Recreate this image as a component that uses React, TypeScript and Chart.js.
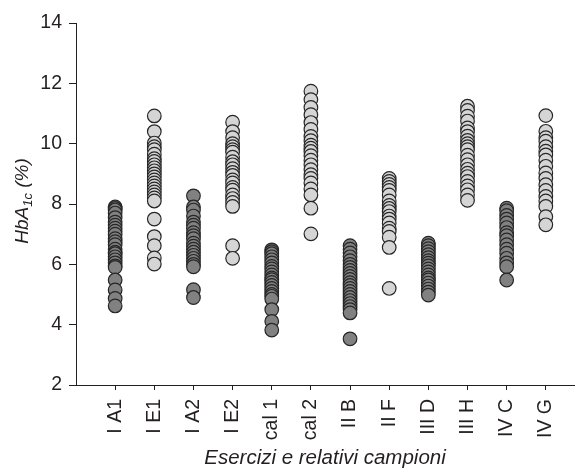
import React, { useEffect, useRef } from "react";
import { Chart, registerables } from "chart.js";

Chart.register(...registerables);

const categories = ["I A1", "I E1", "I A2", "I E2", "cal 1", "cal 2", "II B", "II F", "III D", "III H", "IV C", "IV G"];
const isDark = [true, false, true, false, true, false, true, false, true, false, true, false];

const iA1 = [7.9, 7.85, 7.8, 7.7, 7.55, 7.4, 7.3, 7.2, 7.1, 7.0, 6.85, 6.75, 6.65, 6.5, 6.4, 6.35, 6.25, 6.15, 6.05, 5.95, 5.9, 5.48, 5.15, 4.87, 4.62];
const iE1 = [10.92, 10.4, 10.02, 9.9, 9.8, 9.65, 9.5, 9.41, 9.3, 9.2, 9.1, 9.0, 8.9, 8.8, 8.7, 8.6, 8.5, 8.4, 8.3, 8.2, 8.1, 7.5, 6.92, 6.62, 6.21, 6.01];
const iA2 = [8.27, 7.9, 7.8, 7.6, 7.4, 7.3, 7.2, 7.05, 6.95, 6.85, 6.7, 6.6, 6.5, 6.4, 6.3, 6.2, 6.1, 6.0, 5.92, 5.16, 4.9];
const iE2 = [10.71, 10.4, 10.2, 10.0, 9.9, 9.8, 9.72, 9.55, 9.4, 9.3, 9.17, 9.05, 8.95, 8.8, 8.7, 8.55, 8.46, 8.3, 8.18, 8.05, 7.92, 6.62, 6.2];
const cal1 = [6.48, 6.42, 6.35, 6.25, 6.15, 6.05, 5.93, 5.85, 5.75, 5.65, 5.55, 5.49, 5.4, 5.3, 5.2, 5.1, 5.0, 4.94, 4.85, 4.5, 4.11, 3.82];
const cal2 = [11.74, 11.46, 11.2, 10.96, 10.7, 10.47, 10.24, 10.1, 9.95, 9.85, 9.74, 9.6, 9.45, 9.3, 9.14, 8.97, 8.85, 8.7, 8.5, 8.3, 7.86, 7.01];
const iiB = [6.62, 6.5, 6.38, 6.25, 6.12, 6.0, 5.9, 5.8, 5.7, 5.6, 5.5, 5.39, 5.3, 5.2, 5.1, 5.0, 4.9, 4.8, 4.7, 4.6, 4.5, 4.39, 3.53];
const iiF = [8.85, 8.75, 8.65, 8.55, 8.45, 8.3, 8.1, 7.95, 7.85, 7.75, 7.6, 7.5, 7.37, 7.2, 7.09, 6.9, 6.56, 5.2];
const iiiD = [6.7, 6.62, 6.52, 6.42, 6.32, 6.22, 6.12, 6.04, 5.95, 5.85, 5.75, 5.65, 5.55, 5.48, 5.38, 5.28, 5.18, 5.08, 4.98];
const iiiH = [11.24, 11.1, 10.91, 10.75, 10.52, 10.4, 10.25, 10.11, 10.0, 9.9, 9.8, 9.62, 9.47, 9.3, 9.15, 9.02, 8.91, 8.75, 8.6, 8.47, 8.3, 8.12];
const ivC = [7.86, 7.78, 7.62, 7.5, 7.37, 7.22, 7.05, 6.95, 6.81, 6.65, 6.5, 6.37, 6.2, 6.05, 5.92, 5.48];
const ivG = [10.93, 10.41, 10.2, 10.08, 9.9, 9.75, 9.63, 9.45, 9.25, 9.03, 8.85, 8.64, 8.45, 8.25, 8.1, 7.92, 7.58, 7.31];

const columns = [iA1, iE1, iA2, iE2, cal1, cal2, iiB, iiF, iiiD, iiiH, ivC, ivG];

const yTicks = [2, 4, 6, 8, 10, 12, 14];
const xTitle = "Esercizi e relativi campioni";
const yTitleMain = "HbA";
const yTitleSub = "1c";
const yTitleTail = " (%)";

const FONT = '"Liberation Sans", Arial, Helvetica, sans-serif';
const DARK = "#818181";
const LIGHT = "#d5d5d5";
const EDGE = "#262626";
const TEXT = "#231f20";

const yTitlePlugin = {
  id: "yTitleSub",
  afterDraw(chart: any) {
    const { ctx, chartArea } = chart;
    ctx.save();
    const cy = (chartArea.top + chartArea.bottom) / 2 - 3;
    ctx.translate(27.5, cy);
    ctx.rotate(-Math.PI / 2);
    const main = `italic 19px ${FONT}`;
    const sub = `italic 13px ${FONT}`;
    ctx.font = main;
    const w1 = ctx.measureText(yTitleMain).width;
    const w3 = ctx.measureText(yTitleTail).width;
    ctx.font = sub;
    const w2 = ctx.measureText(yTitleSub).width;
    let x = -(w1 + w2 + w3) / 2;
    ctx.textAlign = "left";
    ctx.textBaseline = "alphabetic";
    ctx.fillStyle = TEXT;
    ctx.font = main;
    ctx.fillText(yTitleMain, x, 0);
    x += w1;
    ctx.font = sub;
    ctx.fillText(yTitleSub, x, 4);
    x += w2;
    ctx.font = main;
    ctx.fillText(yTitleTail, x, 0);
    ctx.restore();
  },
};

export default function App() {
  const ref = useRef<HTMLCanvasElement>(null);

  useEffect(() => {
    if (!ref.current) return;
    const datasets = columns.map((vals, i) => ({
      label: categories[i],
      data: vals.map((v) => ({ x: i + 1, y: v })),
      backgroundColor: isDark[i] ? DARK : LIGHT,
      borderColor: EDGE,
      borderWidth: 1.2,
      pointRadius: 6.8,
      pointHoverRadius: 6.8,
    }));
    const chart = new Chart(ref.current, {
      type: "scatter",
      data: { datasets },
      plugins: [yTitlePlugin],
      options: {
        responsive: false,
        animation: false,
        events: [],
        layout: { padding: { top: 23, left: 0, right: 0, bottom: 0 } },
        plugins: { legend: { display: false }, tooltip: { enabled: false } },
        scales: {
          x: {
            type: "linear",
            min: 0,
            max: 12.72,
            afterFit: (s: any) => {
              s.height = 85;
            },
            afterBuildTicks: (s: any) => {
              s.ticks = categories.map((_, i) => ({ value: i + 1 }));
            },
            grid: { display: true, drawOnChartArea: false, drawTicks: true, tickLength: 5, color: TEXT, lineWidth: 1 },
            border: { display: true, color: TEXT, width: 1 },
            ticks: {
              autoSkip: false,
              minRotation: 90,
              maxRotation: 90,
              padding: 9,
              color: TEXT,
              font: { family: FONT, size: 19.5 },
              callback: (v: any) => categories[Math.round(v) - 1] ?? "",
            },
            title: {
              display: true,
              text: xTitle,
              color: TEXT,
              padding: { top: 0, bottom: -1 },
              font: { family: FONT, size: 20.5, style: "italic" },
            },
          },
          y: {
            type: "linear",
            min: 2,
            max: 14,
            afterFit: (s: any) => {
              s.width = 76;
            },
            afterBuildTicks: (s: any) => {
              s.ticks = yTicks.map((v) => ({ value: v }));
            },
            grid: { display: true, drawOnChartArea: false, drawTicks: true, tickLength: 7, color: TEXT, lineWidth: 1 },
            border: { display: true, color: TEXT, width: 1 },
            ticks: {
              padding: 7,
              color: TEXT,
              font: { family: FONT, size: 19.5 },
            },
          },
        },
      },
    });
    return () => chart.destroy();
  }, []);

  return (
    <div style={{ position: "absolute", left: 0, top: 0, width: 582, height: 470 }}>
      <canvas ref={ref} width={582} height={470} />
    </div>
  );
}
